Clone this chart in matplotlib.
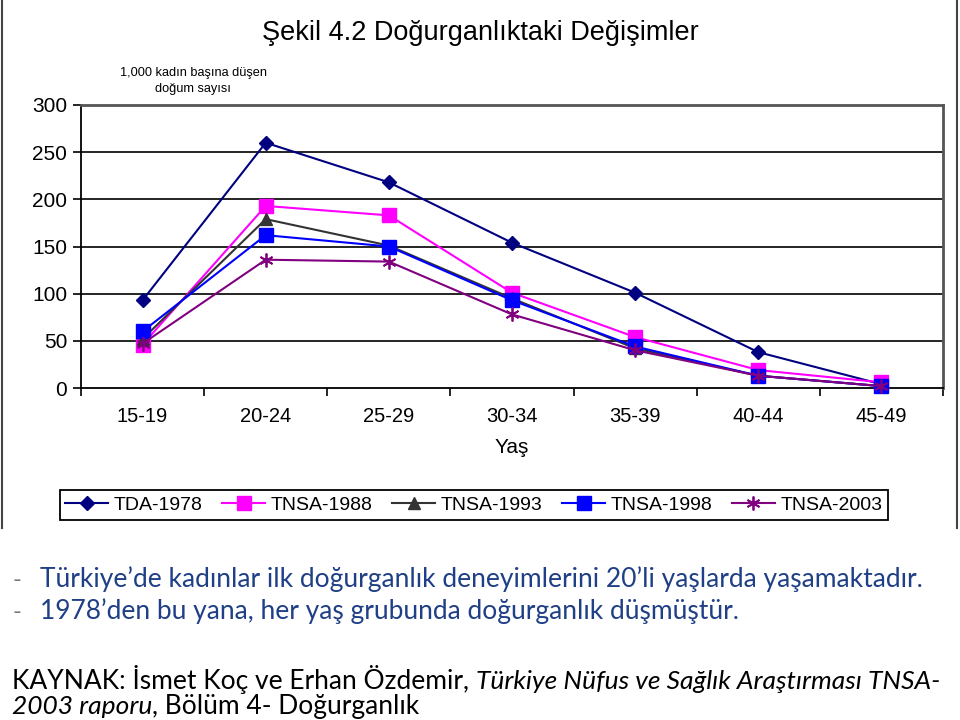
import matplotlib
matplotlib.use("Agg")
import matplotlib.pyplot as plt
from matplotlib.lines import Line2D

# ---- data ----
age_groups = ['15-19', '20-24', '25-29', '30-34', '35-39', '40-44', '45-49']
tda_1978 = [93, 260, 218, 154, 101, 38, 4]
tnsa_1988 = [46, 193, 183, 101, 54, 19, 6]
tnsa_1993 = [52, 179, 151, 95, 42, 13, 2]
tnsa_1998 = [60, 162, 150, 93, 44, 13, 2]
tnsa_2003 = [47, 136, 134, 78, 40, 13, 2]
series_names = ['TDA-1978', 'TNSA-1988', 'TNSA-1993', 'TNSA-1998', 'TNSA-2003']
y_ticks = [0, 50, 100, 150, 200, 250, 300]

plt.rcParams['font.family'] = ['Liberation Sans', 'DejaVu Sans']

W, H = 960, 720
fig = plt.figure(figsize=(9.6, 7.2), dpi=100)
fig.patch.set_facecolor('white')

def fx(px):
    return px / W

def fy(py):
    return 1 - py / H

ax = fig.add_axes([fx(81), fy(388), fx(943) - fx(81), fy(105) - fy(388)])
x = list(range(len(age_groups)))

styles = [
    dict(color='#000080', marker='D', ms=7, mfc='#000080', mec='#000080'),
    dict(color='#FF00FF', marker='s', ms=9.5, mfc='#FF00FF', mec='#FF00FF'),
    dict(color='#333333', marker='^', ms=8.5, mfc='#333333', mec='#333333'),
    dict(color='#0000FF', marker='s', ms=9.5, mfc='#0000FF', mec='#0000FF'),
    dict(color='#800080', marker=(6, 2, 0), ms=10, mfc='#800080', mec='#800080', mew=1.3),
]
all_series = [tda_1978, tnsa_1988, tnsa_1993, tnsa_1998, tnsa_2003]
handles = []
for name, vals, st in zip(series_names, all_series, styles):
    h, = ax.plot(x, vals, lw=1.5, label=name, zorder=3, clip_on=False, **st)
    handles.append(h)

ax.set_xlim(-0.5, len(age_groups) - 0.5)
ax.set_ylim(0, 300)
ax.set_yticks(y_ticks)
ax.set_yticklabels([str(v) for v in y_ticks], fontsize=15)
ax.set_xticks([i + 0.5 for i in range(-1, len(age_groups))])
ax.set_xticklabels([])
ax.set_xticks(x, minor=True)
ax.set_xticklabels(age_groups, minor=True, fontsize=14.5)
ax.tick_params(axis='x', which='minor', length=0, pad=14)
ax.tick_params(axis='x', which='major', length=6, width=1.2, direction='out', color='black')
ax.tick_params(axis='y', length=6, width=1.2, direction='out', color='black', pad=4)

for v in y_ticks[1:-1]:
    ax.axhline(v, color='black', lw=1.2, zorder=1)
for side in ['top', 'right']:
    ax.spines[side].set_color('#555555')
    ax.spines[side].set_linewidth(2)
for side in ['left', 'bottom']:
    ax.spines[side].set_color('black')
    ax.spines[side].set_linewidth(1.3)

ax.set_xlabel('Yaş', fontsize=15, labelpad=8)

# title and y label
fig.text(fx(480), fy(33), 'Şekil 4.2 Doğurganlıktaki Değişimler', fontsize=19.5,
         ha='center', va='center')
fig.text(fx(193), fy(81), '1,000 kadın başına düşen\ndoğum sayısı', fontsize=9.2,
         ha='center', va='center', linespacing=1.5)

# legend
leg = fig.legend(handles=handles, labels=series_names, loc='center',
                 bbox_to_anchor=(fx(474), fy(505)), ncol=5, fontsize=14,
                 frameon=True, fancybox=False, edgecolor='black', framealpha=1,
                 handlelength=2.2, handletextpad=0.3, columnspacing=1.0,
                 borderpad=0.3, numpoints=1)
leg.get_frame().set_linewidth(1.3)

# outer frame lines
fig.add_artist(Line2D([fx(2), fx(2)], [fy(0), fy(528)], color='#444444', lw=1.5))
fig.add_artist(Line2D([fx(957), fx(957)], [fy(0), fy(528)], color='#444444', lw=1.5))

# bottom texts
txt_font = ['Lato', 'DejaVu Sans']
blue = '#1F3F86'
fs = 19
fig.text(fx(12), fy(587), '-', fontsize=17, color='#777777', family=txt_font, va='baseline')
fig.text(fx(40), fy(587), 'Türkiye’de kadınlar ilk doğurganlık deneyimlerini 20’li yaşlarda yaşamaktadır.',
         fontsize=fs, color=blue, family=txt_font, va='baseline')
fig.text(fx(12), fy(619), '-', fontsize=17, color='#777777', family=txt_font, va='baseline')
fig.text(fx(40), fy(619), '1978’den bu yana, her yaş grubunda doğurganlık düşmüştür.',
         fontsize=fs, color=blue, family=txt_font, va='baseline')

renderer = fig.canvas.get_renderer()

def write_parts(parts, x0, ybase):
    xx = x0
    for s, style in parts:
        t = fig.text(xx, ybase, s, fontsize=fs, color='black', family=txt_font,
                     fontstyle=style, va='baseline')
        bb = t.get_window_extent(renderer=renderer)
        xx += bb.width / fig.bbox.width

write_parts([('KAYNAK: İsmet Koç ve Erhan Özdemir, ', 'normal'),
             ('Türkiye Nüfus ve Sağlık Araştırması TNSA-', 'italic')], fx(12), fy(689))
write_parts([('2003 raporu', 'italic'),
             (', Bölüm 4- Doğurganlık', 'normal')], fx(12), fy(714))

fig.savefig('out.png', dpi=100, facecolor='white')
